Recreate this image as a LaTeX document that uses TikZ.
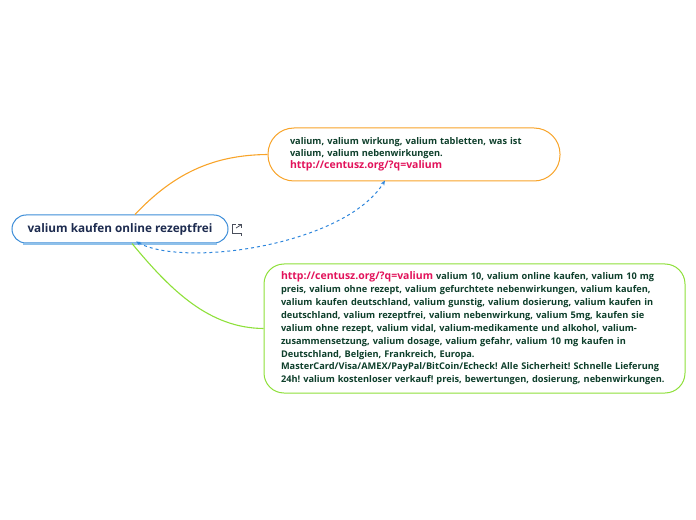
\documentclass[tikz,border=0pt]{standalone}
\usepackage{fontspec}
\setmainfont{Open Sans}
\usetikzlibrary{arrows.meta,calc}
\definecolor{rootblue}{HTML}{3C8DD8}
\definecolor{rootshadow}{HTML}{8EC0EA}
\definecolor{rootink}{HTML}{1D2B4F}
\definecolor{orangeline}{HTML}{F8A42A}
\definecolor{greenline}{HTML}{8EE03A}
\definecolor{urlpink}{HTML}{E2125A}
\definecolor{bodyink}{HTML}{0E3F2B}
\definecolor{linkblue}{HTML}{2E86DC}
\definecolor{icongrey}{HTML}{4A4F5C}
\frenchspacing
\tikzset{
  rootbox/.style={draw=rootblue, line width=1bp, fill=white, rounded corners=14bp,
    minimum width=216bp, minimum height=28bp, inner sep=0pt,
    font=\fontsize{11.8}{13}\selectfont\bfseries, text=rootink},
  topbox/.style={draw=orangeline, line width=1bp, fill=white, rounded corners=26bp,
    minimum width=292bp, minimum height=53bp, inner xsep=22bp, inner ysep=0pt,
    text width=248bp, align=left, text=bodyink,
    font=\fontsize{9.25}{12.3}\selectfont\bfseries},
  botbox/.style={draw=greenline, line width=1bp, fill=white, rounded corners=20bp,
    minimum width=421bp, minimum height=129bp, inner xsep=17bp, inner ysep=0pt,
    text width=387bp, align=left, text=bodyink,
    font=\fontsize{9.25}{12.9}\selectfont\bfseries},
  branch/.style={line width=1.1bp},
  linkarrow/.style={draw=linkblue, line width=1bp, dash pattern=on 3bp off 3bp,
    {Stealth[length=5bp,width=4bp]}-{Stealth[length=5bp,width=4bp]}},
}
\newcommand{\urltext}[1]{{\color{urlpink}\fontsize{10.5}{12}\selectfont #1}}
\begin{document}
\begin{tikzpicture}[x=1bp,y=-1bp]
\useasboundingbox (0,0) rectangle (696,520);

\node[rootbox] (root) at (120,229) {valium kaufen online rezeptfrei};
\draw[rootshadow, line width=2bp] ([xshift=12bp,yshift=-0.8bp]root.south west) -- ([xshift=-12bp,yshift=-0.8bp]root.south east);

\node[topbox] (top) at (414,154.5) {valium, valium wirkung, valium tabletten, was ist\\
valium, valium nebenwirkungen.\\
\urltext{http://centusz.org/?q=valium}};

\node[botbox] (bot) at (474.5,328.5) {\urltext{http://centusz.org/?q=valium} valium 10, valium online kaufen, valium 10 mg\\
preis, valium ohne rezept, valium gefurchtete nebenwirkungen, valium kaufen,\\
valium kaufen deutschland, valium gunstig, valium dosierung, valium kaufen in\\
deutschland, valium rezeptfrei, valium nebenwirkung, valium 5mg, kaufen sie\\
valium ohne rezept, valium vidal, valium-medikamente und alkohol, valium-\\
zusammensetzung, valium dosage, valium gefahr, valium 10 mg kaufen in\\
Deutschland, Belgien, Frankreich, Europa.\\
MasterCard/Visa/AMEX/PayPal/BitCoin/Echeck! Alle Sicherheit! Schnelle Lieferung\\
24h! valium kostenloser verkauf! preis, bewertungen, dosierung, nebenwirkungen.};

% branches
\coordinate (rtop) at ([xshift=15bp]root.north);
\coordinate (rbot) at ([xshift=12bp]root.south);
\draw[branch, orangeline] (rtop) .. controls (175,172) and (215,155) .. (top.west);
\draw[branch, greenline] (rbot) .. controls (172,292) and (210,328) .. (bot.west);

% relationship link
\coordinate (lnkA) at ([xshift=16bp,yshift=2bp]root.south);
\coordinate (lnkB) at ([xshift=-29bp,yshift=1bp]top.south);
\draw[linkarrow] (lnkA) .. controls (185,268) and (345,245) .. (lnkB);

% external link icon
\node[inner sep=0pt, minimum size=8bp] (icon) at (237,229) {};
\draw[icongrey, line width=0.8bp] ([xshift=3bp]icon.north west) -- (icon.north west) -- (icon.south west) -- (icon.south east) -- ([yshift=-3bp]icon.south east);
\draw[icongrey, line width=0.8bp] ([xshift=-1bp,yshift=1bp]icon.center) -- (icon.north east);
\draw[icongrey, line width=0.8bp] ([xshift=-3bp]icon.north east) -- (icon.north east) -- ([yshift=-3bp]icon.north east);
\end{tikzpicture}
\end{document}
